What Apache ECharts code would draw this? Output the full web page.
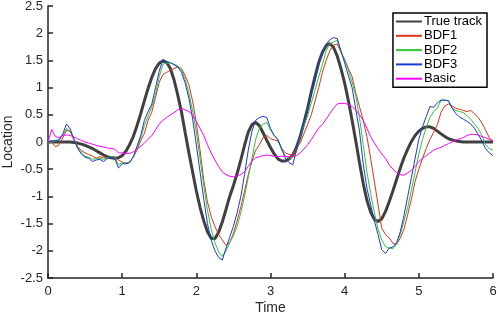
<!DOCTYPE html>
<html>
<head>
<meta charset="utf-8">
<script src="https://cdn.jsdelivr.net/npm/echarts@6/dist/echarts.min.js"></script>
<style>
html,body{margin:0;padding:0;background:#fff;}
#chart{width:498px;height:316px;}
</style>
</head>
<body>
<div id="chart"></div>
<script>
const time = [0,0.05,0.1,0.15,0.2,0.25,0.3,0.35,0.4,0.45,0.5,0.55,0.6,0.65,0.7,0.75,0.8,0.85,0.9,0.95,
1,1.05,1.1,1.15,1.2,1.25,1.3,1.35,1.4,1.45,1.5,1.55,1.6,1.65,1.7,1.75,1.8,1.85,1.9,1.95,
2,2.05,2.1,2.15,2.2,2.25,2.3,2.35,2.4,2.45,2.5,2.55,2.6,2.65,2.7,2.75,2.8,2.85,2.9,2.95,
3,3.05,3.1,3.15,3.2,3.25,3.3,3.35,3.4,3.45,3.5,3.55,3.6,3.65,3.7,3.75,3.8,3.85,3.9,3.95,
4,4.05,4.1,4.15,4.2,4.25,4.3,4.35,4.4,4.45,4.5,4.55,4.6,4.65,4.7,4.75,4.8,4.85,4.9,4.95,
5,5.05,5.1,5.15,5.2,5.25,5.3,5.35,5.4,5.45,5.5,5.55,5.6,5.65,5.7,5.75,5.8,5.85,5.9,5.95,6];

const trueTrack = [0,0,0,0,0,0,0,-0.01,-0.02,-0.04,-0.06,-0.09,-0.12,-0.16,-0.2,-0.24,-0.27,-0.29,-0.3,-0.29,
-0.25,-0.17,-0.05,0.1,0.3,0.52,0.76,0.99,1.19,1.35,1.45,1.49,1.46,1.35,1.14,0.86,0.55,0.17,-0.2,-0.55,
-0.9,-1.2,-1.45,-1.65,-1.77,-1.78,-1.66,-1.47,-1.24,-1.0,-0.8,-0.58,-0.33,-0.06,0.18,0.32,0.36,0.3,0.17,0.03,
-0.1,-0.22,-0.31,-0.35,-0.35,-0.31,-0.24,-0.1,0.1,0.35,0.62,0.92,1.2,1.46,1.65,1.77,1.81,1.74,1.58,1.35,
1.08,0.76,0.4,0.02,-0.38,-0.76,-1.07,-1.29,-1.42,-1.46,-1.41,-1.28,-1.1,-0.9,-0.69,-0.48,-0.29,-0.13,0.01,0.12,
0.2,0.25,0.28,0.28,0.25,0.2,0.15,0.1,0.06,0.04,0.02,0.01,0,0,0,0,0,0,0,0,0];

const bdf1 = [0,0,-0.09,-0.05,0.08,0.22,0.19,0.05,-0.08,-0.16,-0.2,-0.23,-0.26,-0.3,-0.27,-0.29,-0.3,-0.28,-0.27,-0.33,
-0.37,-0.39,-0.37,-0.28,-0.15,0.02,0.16,0.4,0.55,0.82,1.1,1.24,1.28,1.32,1.35,1.38,1.35,1.22,1.05,0.75,
0.35,-0.15,-0.7,-1.1,-1.37,-1.55,-1.7,-1.8,-1.9,-1.85,-1.68,-1.45,-1.19,-0.9,-0.6,-0.35,-0.15,-0.05,0.08,0.12,
0.06,0.04,0.02,-0.12,-0.2,-0.23,-0.24,-0.12,-0.02,0.15,0.32,0.5,0.75,1.0,1.28,1.5,1.68,1.78,1.8,1.65,
1.52,1.35,1.2,0.9,0.65,0.4,0.1,-0.3,-0.72,-1.15,-1.58,-1.7,-1.76,-1.86,-1.88,-1.77,-1.6,-1.33,-1.05,-0.72,
-0.5,-0.3,-0.12,0.05,0.18,0.32,0.55,0.66,0.7,0.66,0.62,0.6,0.58,0.56,0.58,0.52,0.45,0.35,0.22,0.08,0];

const bdf2 = [0,0,0.02,0.03,0.12,0.25,0.2,0.03,-0.1,-0.2,-0.26,-0.28,-0.32,-0.3,-0.3,-0.32,-0.29,-0.27,-0.28,-0.42,
-0.38,-0.39,-0.37,-0.28,-0.12,0.08,0.3,0.48,0.65,0.88,1.2,1.43,1.45,1.45,1.43,1.4,1.32,1.15,0.9,0.57,
0.18,-0.3,-0.8,-1.25,-1.6,-1.85,-2.02,-2.1,-2.0,-1.85,-1.72,-1.55,-1.3,-1.0,-0.65,-0.3,0.05,0.25,0.33,0.36,
0.22,0.12,0.05,-0.15,-0.25,-0.3,-0.28,-0.18,0.1,0.3,0.48,0.72,0.95,1.2,1.42,1.68,1.8,1.84,1.87,1.65,
1.5,1.32,1.1,0.85,0.45,-0.05,-0.55,-0.95,-1.3,-1.6,-1.8,-1.92,-1.95,-1.96,-1.88,-1.7,-1.45,-1.2,-0.88,-0.55,
-0.22,0.05,0.27,0.45,0.56,0.62,0.77,0.77,0.75,0.62,0.58,0.56,0.54,0.48,0.42,0.33,0.25,0.12,-0.05,-0.12,-0.15];

const bdf3 = [0,0.02,0.03,0.04,0.15,0.33,0.24,0.05,-0.12,-0.22,-0.28,-0.3,-0.36,-0.33,-0.32,-0.36,-0.3,-0.28,-0.3,-0.48,
-0.4,-0.4,-0.38,-0.27,-0.08,0.12,0.4,0.56,0.7,1.0,1.3,1.52,1.48,1.46,1.42,1.38,1.28,1.08,0.8,0.42,
-0.05,-0.55,-1.05,-1.5,-1.8,-2.0,-2.12,-2.17,-1.95,-1.75,-1.55,-1.3,-1.0,-0.6,-0.15,0.2,0.4,0.45,0.47,0.45,
0.25,0.12,0.04,-0.12,-0.3,-0.38,-0.42,-0.15,0.12,0.35,0.6,0.88,1.12,1.42,1.65,1.8,1.88,1.92,1.9,1.68,
1.45,1.22,1.0,0.6,0.2,-0.4,-0.85,-1.15,-1.45,-1.7,-1.98,-2.05,-1.95,-1.93,-1.85,-1.65,-1.35,-1.0,-0.65,-0.3,
0.05,0.28,0.47,0.65,0.64,0.72,0.77,0.77,0.76,0.62,0.52,0.46,0.42,0.38,0.33,0.25,0.14,0.02,-0.12,-0.2,-0.25];

const basic = [0,0.23,0.1,0.08,0.12,0.13,0.12,0.09,0.06,0.03,0,-0.02,-0.04,-0.06,-0.08,-0.09,-0.11,-0.12,-0.13,-0.2,
-0.2,-0.21,-0.21,-0.18,-0.13,-0.08,-0.02,0.05,0.12,0.22,0.33,0.4,0.45,0.5,0.54,0.59,0.62,0.59,0.56,0.5,
0.38,0.25,0.12,-0.05,-0.2,-0.33,-0.45,-0.55,-0.6,-0.63,-0.64,-0.62,-0.6,-0.55,-0.45,-0.35,-0.29,-0.27,-0.25,-0.24,
-0.25,-0.26,-0.27,-0.26,-0.27,-0.27,-0.27,-0.25,-0.2,-0.13,-0.05,0.04,0.15,0.26,0.32,0.42,0.52,0.62,0.7,0.71,
0.71,0.69,0.65,0.59,0.5,0.4,0.25,0.1,-0.02,-0.12,-0.22,-0.3,-0.42,-0.5,-0.56,-0.6,-0.61,-0.57,-0.52,-0.45,
-0.36,-0.3,-0.25,-0.2,-0.15,-0.12,-0.1,-0.06,-0.03,0,0.03,0.06,0.08,0.12,0.14,0.14,0.13,0.1,0.08,0.05,0.03];

const seriesNames = ['True track','BDF1','BDF2','BDF3','Basic'];
const seriesValues = [trueTrack, bdf1, bdf2, bdf3, basic];
const seriesColors = ['#404040','#d9341c','#33c433','#1a3ad6','#ff00ff'];
const seriesWidths = [3,1,1,1,1];

const xTicks = [0,6,1];
const yTicks = [-2.5,2.5,0.5];

const chart = echarts.init(document.getElementById('chart'), null, {renderer:'canvas'});
const axisColor = '#262626';
const fontFamily = '"Liberation Sans", Arial, Helvetica, sans-serif';

chart.setOption({
  animation:false,
  backgroundColor:'#fff',
  grid:{left:48,right:5,top:6,bottom:38,containLabel:false,outerBoundsMode:'none'},
  xAxis:{
    type:'value', min:xTicks[0], max:xTicks[1], interval:xTicks[2],
    name:'Time', nameLocation:'middle', nameGap:23, nameMoveOverlap:false,
    nameTextStyle:{color:axisColor,fontSize:14,fontFamily:fontFamily},
    axisLine:{onZero:false,lineStyle:{color:axisColor,width:1.5}},
    axisTick:{inside:true,length:5,lineStyle:{color:axisColor,width:1.5}},
    axisLabel:{color:axisColor,fontSize:13,fontFamily:fontFamily,margin:7},
    splitLine:{show:false}
  },
  yAxis:{
    type:'value', min:yTicks[0], max:yTicks[1], interval:yTicks[2],
    name:'Location', nameLocation:'middle', nameGap:33, nameMoveOverlap:false,
    nameTextStyle:{color:axisColor,fontSize:14,fontFamily:fontFamily},
    axisLine:{show:true,onZero:false,lineStyle:{color:axisColor,width:1.5}},
    axisTick:{show:true,inside:true,length:5,lineStyle:{color:axisColor,width:1.5}},
    axisLabel:{color:axisColor,fontSize:13,fontFamily:fontFamily,margin:5},
    splitLine:{show:false}
  },
  legend:{
    orient:'vertical', right:11, top:13,
    itemWidth:26, itemHeight:8, itemGap:1.3,
    padding:[2,5,2,2],
    borderColor:'#000', borderWidth:1.5, backgroundColor:'#fff',
    itemStyle:{opacity:0},
    textStyle:{color:'#000',fontSize:13,fontFamily:fontFamily,padding:[0,0,0,-3],lineHeight:13},
    data:seriesNames
  },
  series: seriesNames.map((n,k)=>({
    name:n, type:'line', symbol:'none', showSymbol:false,
    data: time.map((t,i)=>[t, seriesValues[k][i]]),
    lineStyle:{color:seriesColors[k], width:seriesWidths[k]},
    itemStyle:{color:seriesColors[k]},
    z: k===0 ? 1 : 2+k
  }))
});
</script>
</body>
</html>
